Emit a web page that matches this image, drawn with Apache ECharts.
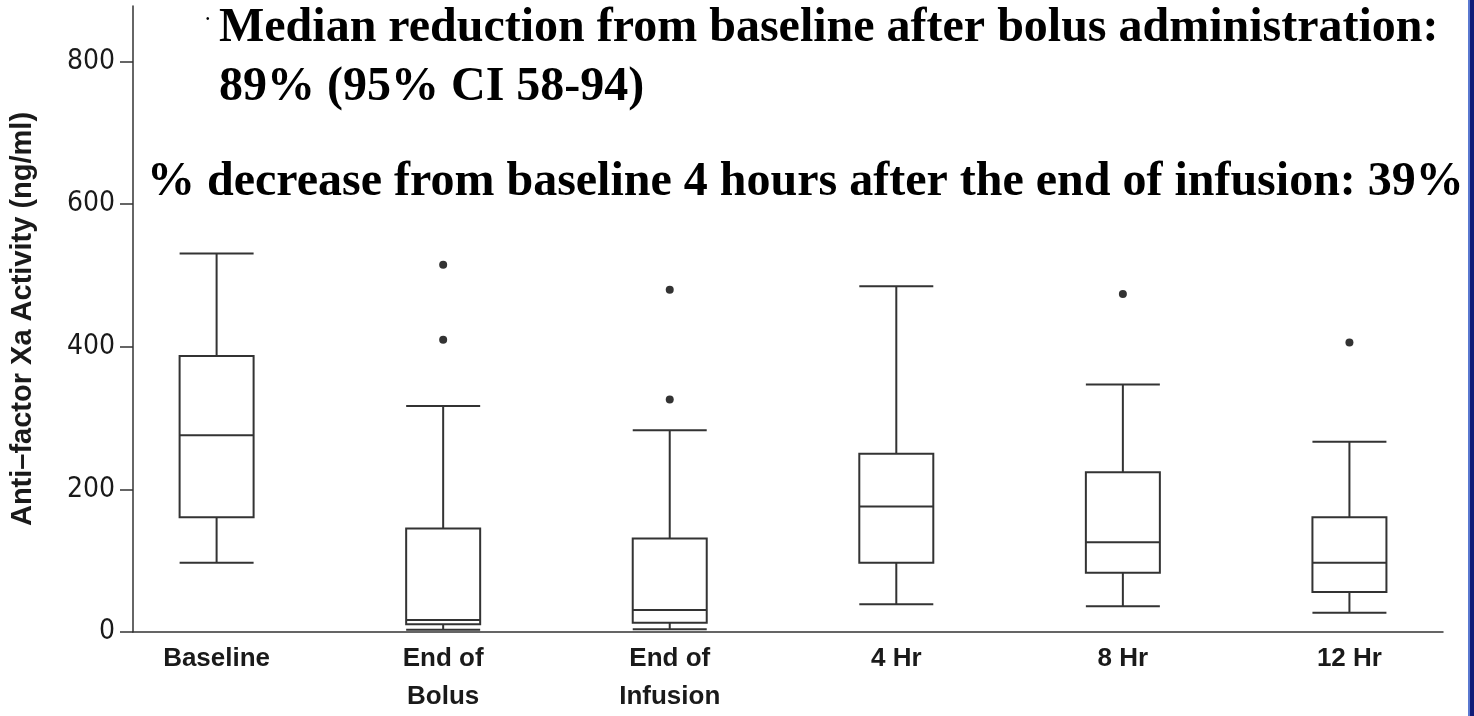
<!DOCTYPE html>
<html>
<head>
<meta charset="utf-8">
<script src="https://cdn.jsdelivr.net/npm/echarts@6/dist/echarts.min.js"></script>
<style>
html,body{margin:0;padding:0;background:#fff;}
#chart{width:1474px;height:716px;}
</style>
</head>
<body>
<div id="chart"></div>
<script>
// ---- data ----
const categories = ['Baseline', 'End of\nBolus', 'End of\nInfusion', '4 Hr', '8 Hr', '12 Hr'];
// [min, Q1, median, Q3, max] per category
const whiskerLow = [97, 3, 4, 39, 36, 27];
const q1Values   = [161, 11, 13, 97, 83, 56];
const medians    = [276, 17, 31, 176, 126, 97];
const q3Values   = [387, 145, 131, 250, 224, 161];
const whiskerHigh= [531, 317, 283, 485, 347, 267];
// outliers: [categoryIndex, value]
const outliers = [[1, 515], [1, 410], [2, 480], [2, 326], [4, 474], [5, 406]];
const yTicks = [0, 200, 400, 600, 800];
const yTitle = 'Anti\u2013factor Xa Activity (ng/ml)';
const note1 = 'Median reduction from baseline after bolus administration:';
const note2 = '89% (95% CI 58-94)';
const note3 = '% decrease from baseline 4 hours after the end of infusion: 39%';

const boxData = categories.map((c, i) => [i, whiskerLow[i], q1Values[i], medians[i], q3Values[i], whiskerHigh[i]]);

const chart = echarts.init(document.getElementById('chart'), null, {renderer: 'canvas'});
const axisColor = '#333';
const serif = "'Liberation Serif', 'Times New Roman', serif";
const sans = "'Liberation Sans', Arial, sans-serif";
const narrow = "'Liberation Sans Narrow', 'DejaVu Sans Condensed', 'Liberation Sans', sans-serif";

chart.setOption({
  animation: false,
  backgroundColor: '#fff',
  grid: {left: 126, right: 31, top: 6, bottom: 80, containLabel: false},
  xAxis: {
    type: 'value',
    min: -0.369,
    max: 5.413,
    splitLine: {show: false},
    axisLine: {show: true, onZero: false, lineStyle: {color: axisColor, width: 1.5}},
    axisTick: {show: false},
    axisLabel: {
      customValues: [0, 1, 2, 3, 4, 5],
      formatter: v => categories[Math.round(v)] || '',
      fontFamily: sans, fontWeight: 'bold', fontSize: 26, color: '#1a1a1a',
      lineHeight: 38, margin: 8
    }
  },
  yAxis: {
    type: 'value',
    min: 0,
    max: 878,
    splitLine: {show: false},
    axisLine: {show: true, onZero: false, lineStyle: {color: axisColor, width: 1.5}},
    axisTick: {show: true, customValues: yTicks, length: 13, lineStyle: {color: axisColor, width: 1.5}},
    axisLabel: {
      customValues: yTicks,
      fontFamily: narrow, fontSize: 28, color: '#1a1a1a', margin: 18
    },
    name: yTitle,
    nameLocation: 'middle',
    nameGap: 96,
    nameRotate: 90,
    nameTextStyle: {fontFamily: sans, fontWeight: 'bold', fontSize: 29, color: '#1a1a1a'}
  },
  series: [
    {
      type: 'boxplot',
      data: boxData,
      boxWidth: [74, 74],
      encode: {x: 0, y: [1, 2, 3, 4, 5]},
      itemStyle: {color: '#fff', borderColor: '#333', borderWidth: 2},
      emphasis: {disabled: true}
    },
    {
      type: 'scatter',
      data: outliers,
      symbol: 'circle',
      symbolSize: 8,
      itemStyle: {color: '#000'},
      emphasis: {disabled: true}
    }
  ],
  graphic: [
    {type: 'text', left: 206, top: 14, style: {text: '\u2022', font: '10px ' + sans, fill: '#000'}},
    {type: 'text', left: 219, top: 5, style: {text: note1, font: 'bold 48px ' + serif, fill: '#000'}},
    {type: 'text', left: 219, top: 64, style: {text: note2, font: 'bold 48px ' + serif, fill: '#000'}},
    {type: 'text', left: 147, top: 159, style: {text: note3, font: 'bold 48px ' + serif, fill: '#000'}},
    {type: 'rect', right: 0, top: 0, shape: {width: 5, height: 716}, style: {fill: '#101c78'}},
    {type: 'rect', right: 4, top: 0, shape: {width: 2, height: 716}, style: {fill: '#5a78d0'}}
  ]
});
</script>
</body>
</html>
